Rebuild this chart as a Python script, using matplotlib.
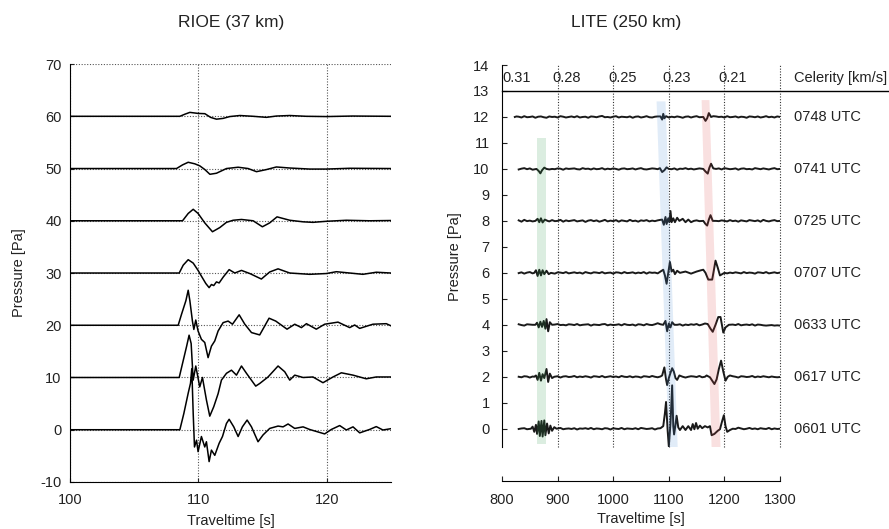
import numpy as np
import matplotlib.pyplot as plt

plt.rcParams['font.family'] = ['Liberation Sans', 'DejaVu Sans']
plt.rcParams['axes.unicode_minus'] = False
plt.rcParams['text.color'] = '#222222'
plt.rcParams['axes.labelcolor'] = '#222222'
plt.rcParams['xtick.color'] = '#222222'
plt.rcParams['ytick.color'] = '#222222'

# ---------------- RIOE (37 km): traces as (time [s], pressure [Pa]) ----------------
rioe_offsets = [60, 50, 40, 30, 20, 10, 0]

rioe_60 = [(100, 0), (108.56, 0), (108.95, 0.4), (109.34, 0.75), (109.99, 0.55), (110.51, 0.5),
           (110.95, -0.2), (111.41, -0.55), (111.93, -0.4), (112.45, -0.05), (113.23, 0.15),
           (114.27, 0.0), (115.3, -0.2), (116.08, 0.05), (117.12, 0.15), (118.4, 0.0),
           (119.97, -0.05), (122.0, 0.05), (125, 0.0)]
rioe_50 = [(100, 0), (108.3, 0), (108.77, 0.7), (109.21, 1.2), (109.73, 0.9), (110.12, 0.5),
           (110.51, -0.2), (110.9, -1.1), (111.41, -0.9), (112.19, 0.0), (113.1, 0.25),
           (113.88, 0.0), (114.53, -0.6), (115.3, -0.2), (116.08, 0.3), (117.12, 0.1),
           (118.68, -0.1), (119.97, -0.1), (121.79, 0.05), (125, 0.0)]
rioe_40 = [(100, 0), (108.77, 0), (109.21, 1.4), (109.6, 2.2), (109.98, 1.4), (110.5, -0.4),
           (111.1, -2.1), (111.67, -1.3), (112.19, -0.3), (112.71, 0.1), (113.36, 0.25),
           (114.27, 0.0), (114.99, -1.15), (115.56, -0.4), (116.13, 0.75), (117.12, 0.1),
           (118.16, -0.2), (118.93, -0.3), (119.97, -0.1), (121.53, 0.1), (123.34, 0.0),
           (125, 0.05)]
rioe_30 = [(100, 0), (108.51, 0), (108.82, 1.5), (109.21, 2.55), (109.6, 1.9), (109.98, 0.5),
           (110.24, -0.6), (110.58, -2.0), (110.84, -2.8), (111.02, -2.2), (111.2, -2.4),
           (111.41, -1.7), (111.62, -1.9), (111.93, -0.8), (112.4, 0.65), (112.84, 0.0),
           (113.36, 0.5), (114.01, -0.1), (114.91, -1.15), (115.56, 0.2), (116.21, 0.8),
           (117.12, 0.0), (118.67, -0.25), (119.97, -0.1), (120.75, 0.25), (121.79, 0.0),
           (122.82, -0.25), (123.86, 0.15), (125, 0.0)]
rioe_20 = [(100, 0), (108.43, 0), (108.69, 2.1), (109.03, 4.7), (109.21, 6.7), (109.34, 4.7),
           (109.54, 0.8), (109.65, -0.8), (109.8, 1.0), (109.98, -1.1), (110.24, -2.7),
           (110.5, -3.3), (110.76, -6.2), (111.02, -4.0), (111.28, -3.0), (111.54, -1.1),
           (111.93, 0.5), (112.32, 0.8), (112.66, 0.2), (113.18, 2.0), (113.62, 0.2),
           (114.14, -1.4), (114.78, -1.85), (115.1, -0.45), (115.51, 1.35), (116.03, 0.8),
           (116.91, -0.75), (117.51, 0.2), (118.03, -0.45), (118.42, 0.3), (119.19, -0.75),
           (119.84, 0.2), (120.88, 0.6), (121.79, -0.45), (122.18, 0.05), (122.57, -0.6),
           (123.6, 0.2), (124.64, 0.3), (125, -0.1)]
rioe_10 = [(100, 0), (108.51, 0), (108.77, 2.7), (109.08, 5.9), (109.28, 8.1), (109.44, 6.5),
           (109.6, -0.5), (109.8, 2.2), (110.11, -1.8), (110.32, 0.0), (110.63, -4.3),
           (110.89, -7.4), (111.2, -5.6), (111.54, -3.1), (111.8, -0.5), (112.19, 0.8),
           (112.58, 1.4), (112.97, 0.45), (113.36, 2.2), (113.75, 0.8), (114.47, -1.65),
           (114.78, -1.15), (115.43, 0.1), (116.21, 2.2), (116.73, 1.1), (117.12, -0.5),
           (117.51, 0.45), (118.16, 0.0), (118.93, 0.1), (119.71, -1.0), (120.49, 0.1),
           (121.14, 0.9), (122.05, 0.45), (123.08, -0.25), (123.86, 0.1), (125, 0.1)]
rioe_0 = [(100, 0), (108.56, 0), (108.87, 3.1), (109.21, 7.0), (109.39, 8.9), (109.49, 11.7),
          (109.6, 3.1), (109.7, -3.3), (109.86, -2.0), (109.98, -4.2), (110.24, -1.3),
          (110.5, -3.3), (110.63, -2.3), (110.84, -6.1), (111.02, -3.9), (111.28, -4.9),
          (111.62, -2.6), (111.88, -1.3), (112.19, 1.2), (112.4, 2.0), (112.76, 0.55),
          (113.1, -1.3), (113.43, 0.55), (113.8, 1.85), (114.14, 0.55), (114.65, -2.3),
          (115.04, -1.0), (115.56, 0.25), (116.21, 0.7), (116.6, 0.55), (116.99, 1.1),
          (117.51, 0.25), (118.16, 0.55), (118.67, 0.05), (119.84, -0.8), (120.36, 0.05),
          (121.01, 0.8), (121.53, -0.05), (122.05, 0.55), (122.57, -0.6), (123.34, 0.05),
          (123.86, 0.6), (124.38, -0.05), (125, 0.2)]
rioe_traces = [rioe_60, rioe_50, rioe_40, rioe_30, rioe_20, rioe_10, rioe_0]

# ---------------- LITE (250 km) ----------------
lite_offsets = [12, 10, 8, 6, 4, 2, 0]
lite_labels = ['0748 UTC', '0741 UTC', '0725 UTC', '0707 UTC', '0633 UTC', '0617 UTC', '0601 UTC']

# background noise in 0.01 Pa, samples evenly spaced from 830 s to 1300 s
noise_0748 = [1, -2, 3, -1, 0, 2, -3, 1, 2, -1, -3, 2, 0, 1, -2, 3, 1, -2, 0, 2,
              -1, 3, -2, 0, 1, -3, 2, 1, -1, 2, 4, -1, 0, -2, 1, 3, -2, 1, 0, -1,
              2, -3, 1, 2, -2, 0, 3, -1, -2, 1, 2, -1, 0, 3, -2, 1, -1, 2, 0, -3,
              1, 2, -2, 1, 3, -1, 0, -2, 2, 1, -3, 2, 0, 1, -2, 3, -1, 0, 2, -2,
              1, 0, -3, 2, 1, -1, 2, -2, 0, 3, -1, 1, -2, 2, 0]
noise_0741 = [-2, 1, 3, -1, 2, -3, 0, 2, -1, 1, 3, -2, 0, -1, 2, 1, -3, 2, 0, 1,
              2, -1, -2, 3, 0, 1, -2, 2, -1, 0, 3, -2, 1, -1, 2, 0, -3, 1, 2, -1,
              0, 2, -2, 1, 3, -1, -2, 0, 2, 1, -1, 3, -2, 0, 1, -1, 2, -3, 1, 0,
              3, -1, 1, -2, 0, 2, -1, 3, -2, 1, 0, -1, 2, -2, 3, 1, -1, 0, 2, -3,
              1, 2, -1, 0, -2, 3, 1, -1, 2, 0, -2, 1, 3, -1, 0]
noise_0725 = [2, -3, 4, -1, 1, -2, 3, 0, -4, 2, 1, -2, 3, -1, 0, 4, -3, 2, -1, 1,
              3, -2, 0, 2, -4, 1, 3, -1, 2, -3, 0, 4, -2, 1, -1, 3, -3, 2, 0, -2,
              4, -1, 1, -3, 2, 0, 3, -2, 1, -1, 2, 4, -3, 0, 1, -2, 3, -1, -2, 2,
              0, 3, -4, 1, 2, -1, 3, -2, 0, 1, -3, 4, -1, 2, 0, -2, 3, -1, 1, -3,
              2, 0, -2, 3, 1, -1, 2, -3, 4, 0, -2, 1, 3, -1, 0]
noise_0707 = [-1, 2, -3, 1, 3, -2, 0, 2, -1, 4, -2, 1, 0, -3, 2, 1, -1, 3, -2, 0,
              2, -1, 1, -3, 3, 0, -2, 2, 1, -1, 3, -2, 0, 1, -3, 2, 1, -2, 3, -1,
              0, 2, -2, 1, -1, 3, -3, 2, 0, 1, -2, 3, -1, 0, 2, -1, 1, -2, 4, -1,
              0, -3, 2, 1, -1, 2, -2, 3, 0, -1, 1, -3, 2, 0, 3, -2, 1, -1, 2, 0,
              -2, 3, -1, 1, 0, -3, 2, 1, -1, 3, -2, 0, 2, -1, 1]
noise_0633 = [2, -1, -3, 2, 1, 0, 3, -2, 1, -1, 0, 2, -3, 1, 3, -1, 0, -2, 2, 1,
              -1, 3, -2, 0, 1, 2, -3, 1, 0, -1, 2, 3, -2, 1, -1, 0, 2, -2, 3, 0,
              -1, 1, -3, 2, 1, -2, 3, 0, -1, 2, 6, 2, -1, 1, -2, 3, -1, 0, 2, -3,
              1, -1, 2, 0, 3, -2, 1, -1, 0, 2, -3, 1, 3, -1, 0, -2, 2, 1, -1, 3,
              -2, 0, 1, -1, 2, -3, 1, 0, -2, -3, -2, -1, -3, -2, -3]
noise_0617 = [0, -2, 2, 1, -3, 1, 0, 2, -1, 3, -2, 1, 0, -1, 2, -3, 1, 2, -1, 0,
              3, -2, 1, -1, 2, 0, -3, 2, 1, -1, 3, -2, 0, 2, -1, 1, -2, 3, 0, -1,
              2, -2, 1, 0, -3, 2, 1, -1, 3, 0, -2, 1, 2, -1, 0, 3, -2, 1, -1, 2,
              -3, 0, 2, 1, -1, 3, -2, 0, 1, -2, 2, -1, 3, 0, -2, 1, -1, 2, 0, -3,
              2, 1, -1, 0, 3, -2, 1, -1, 2, 0, -2, 1, -1, -2, -1]
noise_0601 = [-1, 1, 2, -2, 0, 3, -1, 1, -2, 2, 0, -3, 1, 2, -1, 3, -2, 0, 1, -1,
              2, -3, 1, 0, 2, -1, 3, -2, 1, 0, -2, 2, 1, -3, 2, 0, -1, 3, -2, 1,
              0, -1, 2, -2, 3, 1, -1, 0, 2, -3, 1, 2, -1, 0, 3, -2, 1, -1, 2, 0,
              -2, 3, -1, 1, 0, -2, 2, 1, -3, 2, 0, -1, 3, -2, 1, 0, -2, 2, -1, 4,
              1, -2, 0, 3, -1, 1, -2, 2, 0, -1, 3, -2, 1, -1, 0]
lite_noise = [noise_0748, noise_0741, noise_0725, noise_0707, noise_0633, noise_0617, noise_0601]

# arrivals, grouped as (time [s], pressure [Pa])
arr_0748 = [[(823, 0.0), (826, 0.02)],
            [(1085, 0.02), (1088, -0.1), (1090, 0.12), (1092, -0.05), (1095, 0.03)],
            [(1162, 0.0), (1166, -0.15), (1169, -0.05), (1172, 0.15), (1176, 0.0), (1180, 0.03)]]
arr_0741 = [[(862, 0.0), (866, -0.08), (869, -0.17), (872, -0.05), (876, 0.05), (880, 0.0)],
            [(1084, 0.03), (1088, -0.12), (1092, -0.05), (1096, 0.06), (1100, 0.0)],
            [(1162, 0.0), (1166, -0.1), (1170, -0.18), (1173, 0.05), (1176, 0.2), (1180, 0.02),
             (1185, 0.0)]]
arr_0725 = [[(860, 0.0), (864, 0.08), (867, -0.05), (870, 0.1), (873, -0.06), (877, 0.05), (882, 0.0)],
            [(1088, 0.05), (1091, -0.15), (1094, 0.15), (1096, -0.12), (1099, 0.1), (1101, -0.05),
             (1103, 0.38), (1105, -0.05), (1108, 0.1), (1111, -0.05), (1115, 0.12), (1119, 0.0),
             (1125, 0.08), (1130, -0.05), (1135, 0.05), (1140, -0.05), (1145, 0.0)],
            [(1162, 0.0), (1166, -0.12), (1169, -0.18), (1172, 0.05), (1175, 0.22), (1179, 0.0),
             (1185, 0.0)]]
arr_0707 = [[(858, 0.0), (861, 0.1), (864, -0.12), (867, 0.12), (870, -0.1), (873, 0.1),
             (876, -0.05), (880, 0.08), (884, -0.05), (888, 0.0)],
            [(1085, 0.05), (1090, 0.12), (1093, -0.1), (1096, -0.42), (1099, 0.0), (1102, 0.42),
             (1105, 0.05), (1108, 0.12), (1111, -0.05), (1115, 0.08), (1120, 0.0), (1130, 0.05),
             (1140, -0.03), (1150, 0.05), (1158, 0.1)],
            [(1162, 0.12), (1166, 0.0), (1171, -0.26), (1178, -0.26), (1181, 0.1), (1184, 0.47),
             (1188, 0.2), (1192, -0.1), (1196, -0.05), (1200, 0.0)]]
arr_0633 = [[(860, 0.0), (863, 0.08), (866, -0.1), (869, 0.12), (872, -0.08), (875, 0.15),
             (878, -0.15), (880, 0.22), (883, -0.25), (886, 0.1), (890, 0.0)],
            [(1090, 0.0), (1094, 0.15), (1097, -0.25), (1100, 0.05), (1103, -0.1), (1106, 0.1),
             (1110, 0.0)],
            [(1165, 0.05), (1170, 0.03), (1175, -0.15), (1179, -0.27), (1184, 0.0), (1189, 0.3),
             (1193, 0.3), (1198, -0.3), (1202, -0.1), (1208, 0.0)]]
arr_0617 = [[(858, 0.0), (861, 0.05), (864, -0.12), (867, 0.15), (870, -0.15), (873, 0.1),
             (876, -0.05), (880, 0.3), (883, -0.2), (886, 0.12), (890, -0.05), (894, 0.0)],
            [(1088, 0.05), (1092, 0.36), (1095, -0.1), (1097, -0.32), (1100, -0.05), (1103, 0.15),
             (1106, 0.33), (1109, 0.2), (1112, -0.05), (1115, -0.12), (1119, 0.05), (1125, 0.0)],
            [(1168, 0.05), (1174, -0.02), (1178, -0.15), (1182, -0.28), (1186, -0.1), (1190, 0.3),
             (1194, 0.62), (1198, 0.2), (1202, -0.15), (1206, 0.0), (1210, 0.05)]]
arr_0601 = [[(852, 0.0), (855, 0.08), (858, -0.12), (861, 0.15), (863, -0.2), (866, 0.28),
             (868, -0.28), (871, 0.3), (873, -0.3), (876, 0.32), (878, -0.25), (881, 0.2),
             (884, -0.18), (887, 0.12), (890, -0.08), (894, 0.06), (898, 0.0)],
            [(1090, 0.1), (1093, 0.6), (1095, 1.03), (1098, -0.1), (1100, -0.68), (1103, 0.2),
             (1106, 1.67), (1108, 0.1), (1109.5, -0.22), (1112, 0.15), (1114, 0.5), (1117, 0.05),
             (1120, -0.05), (1125, 0.1), (1130, -0.05), (1135, 0.1), (1140, -0.05), (1143, 0.18),
             (1146, -0.02), (1149, 0.22), (1152, 0.0), (1156, 0.12), (1160, 0.02), (1165, 0.1),
             (1170, 0.05), (1174, 0.1)],
            [(1177, -0.25), (1182, -0.2), (1188, -0.08), (1192, -0.02), (1196, 0.3), (1199, 0.52),
             (1202, 0.1), (1205, -0.12), (1210, -0.05), (1215, 0.0)]]
lite_arrivals = [arr_0748, arr_0741, arr_0725, arr_0707, arr_0633, arr_0617, arr_0601]

# highlighted arrival windows (time, pressure) corners
band_green = [(863, 11.2), (879, 11.2), (879, -0.6), (863, -0.6)]
band_blue = [(1078, 12.6), (1094, 12.6), (1116, -0.75), (1100, -0.75)]
band_red = [(1159, 12.65), (1173, 12.65), (1193, -0.75), (1177, -0.75)]
band_colors = ['#2e9a4a', '#4f8fd6', '#e04848']

# celerity (250 km / traveltime) marked along the top
celerity_labels = ['0.31', '0.28', '0.25', '0.23', '0.21']
celerity_pos = [827, 917, 1017, 1114, 1215]


def build_trace(noise, groups):
    t = np.linspace(830, 1300, len(noise))
    p = 0.01 * np.array(noise, dtype=float)
    keep = np.ones(len(t), dtype=bool)
    for g in groups:
        gt = [a for a, _ in g]
        keep &= (t < min(gt) - 2.5) | (t > max(gt) + 2.5)
    ts = list(t[keep])
    ps = list(p[keep])
    for g in groups:
        ts += [a for a, _ in g]
        ps += [b for _, b in g]
    order = np.argsort(ts)
    return np.array(ts)[order], np.array(ps)[order]


fig = plt.figure(figsize=(8.89, 5.29), dpi=100)
fs = 10.5

# ---------- left panel ----------
ax1 = fig.add_axes([0.0787, 0.0889, 0.361, 0.790])
for off, tr in zip(rioe_offsets, rioe_traces):
    t = [a for a, _ in tr]
    p = [b + off for _, b in tr]
    ax1.plot(t, p, color='black', lw=1.1, zorder=3)
ax1.set_xlim(100, 125)
ax1.set_ylim(-10, 70)
ax1.set_xticks([100, 110, 120])
ax1.set_yticks(np.arange(-10, 71, 10))
ax1.grid(True, linestyle=(0, (1, 1.5)), color='#555555', lw=0.8)
ax1.spines['top'].set_visible(False)
ax1.spines['right'].set_visible(False)
ax1.tick_params(direction='in', length=3, labelsize=fs)
ax1.tick_params(axis='x', pad=8)
ax1.tick_params(axis='y', pad=6)
ax1.set_xlabel('Traveltime [s]', fontsize=fs, labelpad=5)
ax1.set_ylabel('Pressure [Pa]', fontsize=fs, labelpad=10)
fig.text(231 / 889, 1 - 22 / 529, 'RIOE (37 km)', ha='center', va='center', fontsize=12.5)

# ---------- right panel ----------
ax2 = fig.add_axes([0.5647, 0.1542, 0.3127, 0.7229])
for off, noise, groups, lab in zip(lite_offsets, lite_noise, lite_arrivals, lite_labels):
    t, p = build_trace(noise, groups)
    ax2.plot(t, p + off, color='#1a1a1a', lw=1.4, zorder=3)
    ax2.text(1325, off, lab, ha='left', va='center', fontsize=fs, clip_on=False)

for band, col in zip([band_green, band_blue, band_red], band_colors):
    ax2.add_patch(plt.Polygon(band, closed=True, facecolor=col, edgecolor='none',
                              alpha=0.17, zorder=4))

ax2.vlines([900, 1000, 1100, 1200, 1300], -0.72, 14, colors='#333333',
           linestyles=(0, (1, 1.5)), lw=0.8, zorder=1, clip_on=False)
ax2.axhline(13, xmin=0, xmax=(888 - 502) / 278, color='black', lw=1.0, clip_on=False)
for cp, cl in zip(celerity_pos, celerity_labels):
    ax2.text(cp, 13.5, cl, ha='center', va='center', fontsize=fs)
ax2.text(1325, 13.5, 'Celerity [km/s]', ha='left', va='center', fontsize=fs, clip_on=False)

ax2.set_xlim(800, 1300)
ax2.set_ylim(-0.72, 14)
ax2.set_xticks([800, 900, 1000, 1100, 1200, 1300])
ax2.set_yticks(np.arange(0, 15, 1))
ax2.spines['top'].set_visible(False)
ax2.spines['right'].set_visible(False)
ax2.spines['bottom'].set_position(('outward', 24.5))
ax2.tick_params(direction='in', length=3.5, labelsize=fs)
ax2.tick_params(axis='x', pad=8)
ax2.tick_params(axis='y', pad=9)
ax2.set_xlabel('Traveltime [s]', fontsize=fs, labelpad=4)
ax2.set_ylabel('Pressure [Pa]', fontsize=fs, labelpad=8)
fig.text(626 / 889, 1 - 22 / 529, 'LITE (250 km)', ha='center', va='center', fontsize=12.5)

fig.savefig('out.png', dpi=100)
